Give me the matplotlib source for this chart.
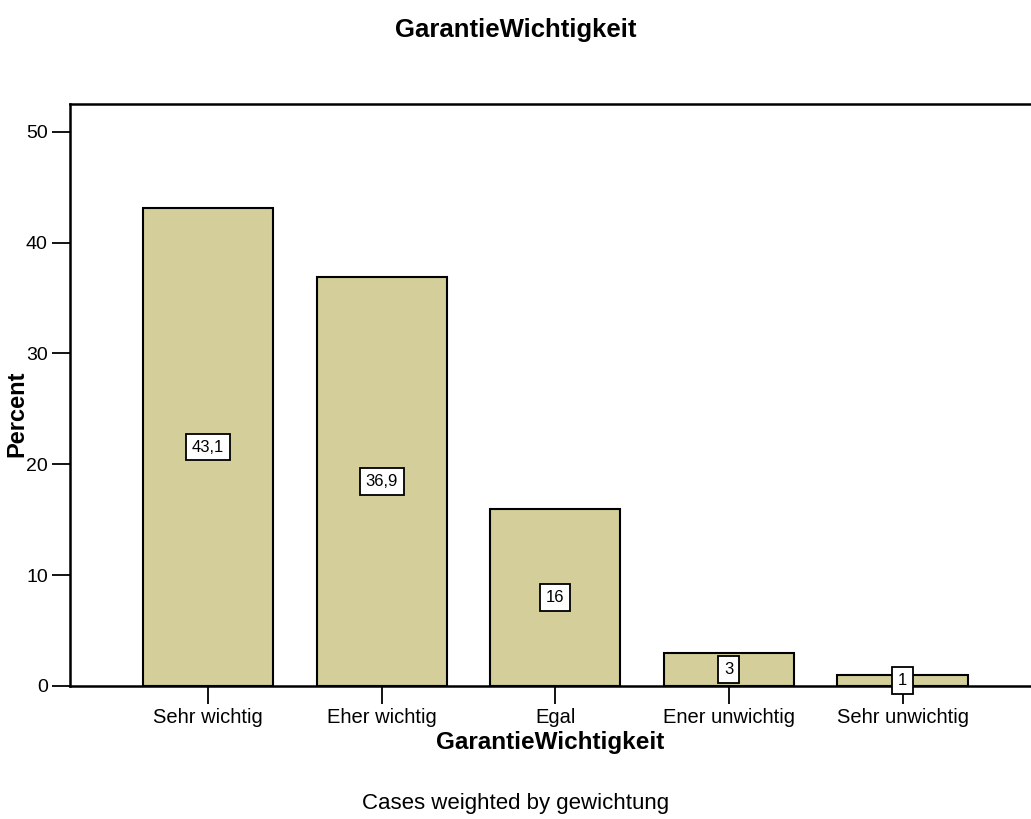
import matplotlib
matplotlib.use('Agg')
import matplotlib.pyplot as plt

# Daten
categories = ['Sehr wichtig', 'Eher wichtig', 'Egal', 'Ener unwichtig', 'Sehr unwichtig']
percent = [43.1, 36.9, 16.0, 3.0, 1.0]
labels = ['43,1', '36,9', '16', '3', '1']
yticks = [0, 10, 20, 30, 40, 50]

plt.rcParams['font.family'] = ['Liberation Sans', 'DejaVu Sans']

fig = plt.figure(figsize=(10.31, 8.19), dpi=100)
ax = fig.add_axes([0.0679, 0.1624, 0.9321, 0.7106])

x = list(range(len(categories)))
ax.bar(x, percent, width=0.75, color='#d3ce9a', edgecolor='black', linewidth=1.5, zorder=2)

# Wertelabels in der Mitte der Balken
for xi, v, lab in zip(x, percent, labels):
    ax.text(xi, v / 2, lab, ha='center', va='center', fontsize=12, zorder=3,
            bbox=dict(boxstyle='square,pad=0.35', facecolor='white', edgecolor='black', linewidth=1.3))

ax.set_xlim(-0.795, 4.74)
ax.set_ylim(0, 52.5)
ax.set_xticks(x)
ax.set_xticklabels(categories, fontsize=14.5)
ax.set_yticks(yticks)
ax.set_yticklabels([str(t) for t in yticks], fontsize=14)
ax.tick_params(axis='both', direction='out', length=13, width=1.3, pad=3)
ax.spines['right'].set_visible(False)
for s in ['left', 'top', 'bottom']:
    ax.spines[s].set_linewidth(1.8)

ax.set_xlabel('GarantieWichtigkeit', fontsize=17.5, fontweight='bold', labelpad=3)
fig.text(0.016, 0.495, 'Percent', rotation=90, ha='center', va='center', fontsize=17, fontweight='bold')
fig.text(0.5, 0.963, 'GarantieWichtigkeit', ha='center', va='center', fontsize=18.5, fontweight='bold')
fig.text(0.5, 0.019, 'Cases weighted by gewichtung', ha='center', va='center', fontsize=16)

fig.savefig('out.png', dpi=100)
